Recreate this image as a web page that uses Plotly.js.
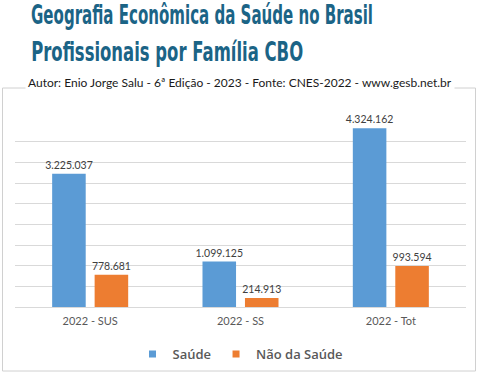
<!DOCTYPE html>
<html><head><meta charset="utf-8">
<script src="https://cdn.plot.ly/plotly-3.0.1.min.js"></script>
<style>html,body{margin:0;padding:0;background:#fff}</style>
</head><body><div id="chart" style="width:480px;height:373px"></div>
<script>
const categories = ["2022 - SUS", "2022 - SS", "2022 - Tot"];
const saude = [3225037, 1099125, 4324162];
const naoSaude = [778681, 214913, 993594];
const seriesNames = ["Saúde", "Não da Saúde"];
const seriesColors = ["#5b9bd5", "#ed7d31"];
const titleLine1 = "Geografia Econômica da Saúde no Brasil";
const titleLine2 = "Profissionais por Família CBO";
const subtitle = "Autor: Enio Jorge Salu - 6ª Edição - 2023 - Fonte: CNES-2022 - www.gesb.net.br";

const fmt = v => v.toString().replace(/\B(?=(\d{3})+(?!\d))/g, ".");
const labelFont = {family: "Lato, 'Open Sans', sans-serif", size: 10.5, color: "#404040"};

const mk = (name, vals, color) => ({
  type: "bar", name: name, x: categories, y: vals,
  marker: {color: color}, showlegend: false,
  text: vals.map(fmt), textposition: "outside", cliponaxis: false, constraintext: "none",
  textfont: labelFont, hoverinfo: "skip"
});
const leg = (name, color) => ({
  type: "scatter", mode: "markers", name: name, x: [null], y: [null],
  marker: {symbol: "square", size: 7, color: color}, hoverinfo: "skip"
});

const L = 15, R = 14, T = 121, B = 66, W = 480, H = 373;
const pw = W - L - R, ph = H - T - B;
const px = x => (x - L) / pw;
const py = y => (H - B - y) / ph;
const titleFont = {family: "'DejaVu Sans', sans-serif", size: 27, color: "#1b6486", weight: "bold"};

const layout = {
  width: W, height: H,
  margin: {l: L, r: R, t: T, b: B, pad: 0, autoexpand: false},
  paper_bgcolor: "#fff", plot_bgcolor: "#fff",
  barmode: "group", bargap: 0.435, bargroupgap: 0.21,
  showlegend: true,
  legend: {orientation: "h", x: 0.5, xanchor: "center", y: py(339), yanchor: "top",
    bgcolor: "rgba(0,0,0,0)",
    font: {family: "'Open Sans', sans-serif", size: 13, color: "#595959", weight: 600},
    itemwidth: 30, traceorder: "normal"},
  xaxis: {showgrid: false, zeroline: false, showline: true, linecolor: "#d9d9d9", linewidth: 1,
    ticks: "", ticklabelstandoff: 4, automargin: false,
    tickfont: {family: "Lato, 'Open Sans', sans-serif", size: 11, color: "#595959"}, fixedrange: true},
  yaxis: {range: [0, 4500000], dtick: 500000, showticklabels: false, gridcolor: "#d9d9d9",
    gridwidth: 1, zeroline: false, fixedrange: true, automargin: false},
  shapes: [
    {type: "rect", xref: "paper", yref: "paper", x0: px(2.5), x1: px(475.5), y0: py(88), y1: py(371),
     line: {color: "#d0d0d0", width: 1}, fillcolor: "rgba(0,0,0,0)", layer: "below"}
  ],
  annotations: [
    {text: titleLine1, xref: "paper", yref: "paper", x: px(31 + 342 / 2), y: py(-3), xanchor: "center", yanchor: "top",
     showarrow: false, font: titleFont},
    {text: titleLine2, xref: "paper", yref: "paper", x: px(31 + 272 / 2), y: py(34), xanchor: "center", yanchor: "top",
     showarrow: false, font: titleFont},
    {text: subtitle, xref: "paper", yref: "paper", x: px(240), y: py(82), xanchor: "center", yanchor: "middle",
     showarrow: false, bgcolor: "#fff", borderpad: 2,
     font: {family: "Lato, 'Open Sans', sans-serif", size: 12, color: "#1a1a1a"}}
  ]
};

Plotly.newPlot("chart", [mk(seriesNames[0], saude, seriesColors[0]), mk(seriesNames[1], naoSaude, seriesColors[1]),
  leg(seriesNames[0], seriesColors[0]), leg(seriesNames[1], seriesColors[1])], layout,
  {staticPlot: true, displayModeBar: false}).then(() => {
  const widths = [342, 272];
  const nodes = document.querySelectorAll(".annotation-text");
  [0, 1].forEach(i => {
    const t = nodes[i];
    if (t) { t.setAttribute("textLength", widths[i]); t.setAttribute("lengthAdjust", "spacingAndGlyphs"); }
  });
});
</script></body></html>
